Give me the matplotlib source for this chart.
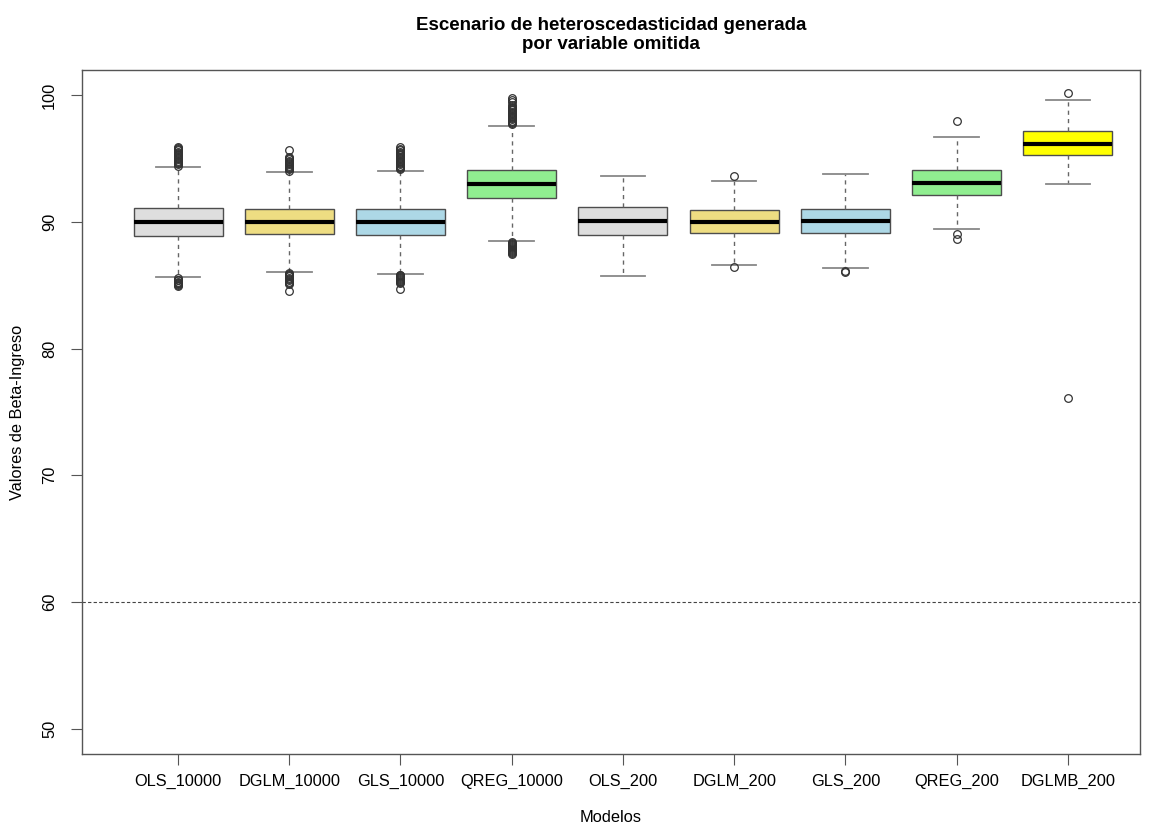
import matplotlib
matplotlib.use("Agg")
import matplotlib.pyplot as plt

plt.rcParams["font.family"] = ["Liberation Sans", "DejaVu Sans"]

# model labels and box fill colours
modelos = ["OLS_10000", "DGLM_10000", "GLS_10000", "QREG_10000",
           "OLS_200", "DGLM_200", "GLS_200", "QREG_200", "DGLMB_200"]
colores = ["#DEDEDE", "#EEDD82", "#ADD8E6", "#90EE90",
           "#DEDEDE", "#EEDD82", "#ADD8E6", "#90EE90", "#FFFF00"]

# five-number summaries per model
q1 = [88.92, 89.05, 88.97, 91.90, 88.97, 89.15, 89.13, 92.14, 95.25]
mediana = [90.00, 90.00, 90.00, 93.03, 90.05, 89.97, 90.05, 93.09, 96.14]
q3 = [91.08, 91.00, 91.00, 94.14, 91.19, 90.92, 91.00, 94.11, 97.17]
bigote_inf = [85.64, 86.06, 85.93, 88.47, 85.72, 86.57, 86.38, 89.41, 93.00]
bigote_sup = [94.35, 93.98, 94.06, 97.60, 93.59, 93.22, 93.80, 96.67, 99.60]

# atypical values beyond the whiskers
atipicos = [
    [94.45, 94.55, 94.65, 94.75, 94.85, 94.95, 95.05, 95.15, 95.25, 95.35,
     95.45, 95.55, 95.65, 95.75, 95.85, 95.92,
     85.55, 85.45, 85.38, 85.30, 85.22, 85.15, 85.08, 85.00, 84.92],
    [94.05, 94.15, 94.25, 94.35, 94.45, 94.55, 94.65, 94.75, 94.85, 94.95,
     95.05, 95.15, 95.67,
     85.98, 85.90, 85.80, 85.70, 85.60, 85.50, 85.40, 85.30, 85.20, 85.10, 84.56],
    [94.15, 94.25, 94.35, 94.45, 94.55, 94.65, 94.75, 94.85, 94.95, 95.05,
     95.15, 95.25, 95.35, 95.45, 95.55, 95.65, 95.75, 95.95,
     85.85, 85.78, 85.70, 85.62, 85.55, 85.47, 85.40, 85.32, 85.25, 85.15, 84.72],
    [97.70, 97.80, 97.90, 98.00, 98.10, 98.20, 98.30, 98.40, 98.50, 98.60,
     98.70, 98.80, 98.90, 99.00, 99.10, 99.25, 99.45, 99.62, 99.76,
     88.40, 88.32, 88.25, 88.18, 88.10, 88.02, 87.95, 87.88, 87.80, 87.72,
     87.65, 87.58, 87.50],
    [],
    [93.64, 86.44],
    [86.12, 86.05],
    [98.00, 89.07, 88.65],
    [100.16, 76.11],
]

linea_ref = 60
yticks = [50, 60, 70, 80, 90, 100]

fig = plt.figure(figsize=(11.51, 8.27), dpi=100)
ax = fig.add_axes([0.0712, 0.0883, 0.9193, 0.8271])

stats = []
for i, nombre in enumerate(modelos):
    stats.append({
        "label": nombre,
        "med": mediana[i],
        "q1": q1[i],
        "q3": q3[i],
        "whislo": bigote_inf[i],
        "whishi": bigote_sup[i],
        "fliers": atipicos[i],
    })

bp = ax.bxp(
    stats,
    positions=range(1, len(modelos) + 1),
    widths=0.8,
    patch_artist=True,
    boxprops=dict(edgecolor="#4d4d4d", linewidth=1.0),
    medianprops=dict(color="black", linewidth=3.0, solid_capstyle="butt"),
    whiskerprops=dict(color="#666666", linestyle=(0, (3, 3)), linewidth=1.0),
    capprops=dict(color="#888888", linewidth=1.3),
    flierprops=dict(marker="o", markerfacecolor="none", markeredgecolor="#333333",
                    markersize=5.5, markeredgewidth=0.9),
    capwidths=0.4,
)
for caja, c in zip(bp["boxes"], colores):
    caja.set_facecolor(c)

ax.axhline(linea_ref, color="#444444", linestyle=(0, (3, 2)), linewidth=0.8)

ax.set_xlim(0.136, 9.65)
ax.set_ylim(48, 102)
ax.set_yticks(yticks)
ax.set_yticklabels([str(t) for t in yticks], rotation=90, va="center", fontsize=11.8)
ax.set_xticks(range(1, len(modelos) + 1))
ax.set_xticklabels(modelos, fontsize=11.8)
ax.tick_params(axis="x", length=8, pad=6, color="#555555")
ax.tick_params(axis="y", length=8, pad=10, color="#555555")

for lado in ["top", "right", "bottom", "left"]:
    ax.spines[lado].set_color("#555555")
    ax.spines[lado].set_linewidth(1.0)

ax.set_xlabel("Modelos", fontsize=11.8, va="center")
ax.xaxis.set_label_coords(0.5, -0.0936)
ax.set_ylabel("Valores de Beta-Ingreso", fontsize=11.8, va="center")
ax.yaxis.set_label_coords(-0.0605, 0.5)
ax.set_title("Escenario de heteroscedasticidad generada\npor variable omitida",
             fontsize=13.5, fontweight="bold", pad=15, linespacing=1.2)

fig.savefig("out.png", dpi=100)
